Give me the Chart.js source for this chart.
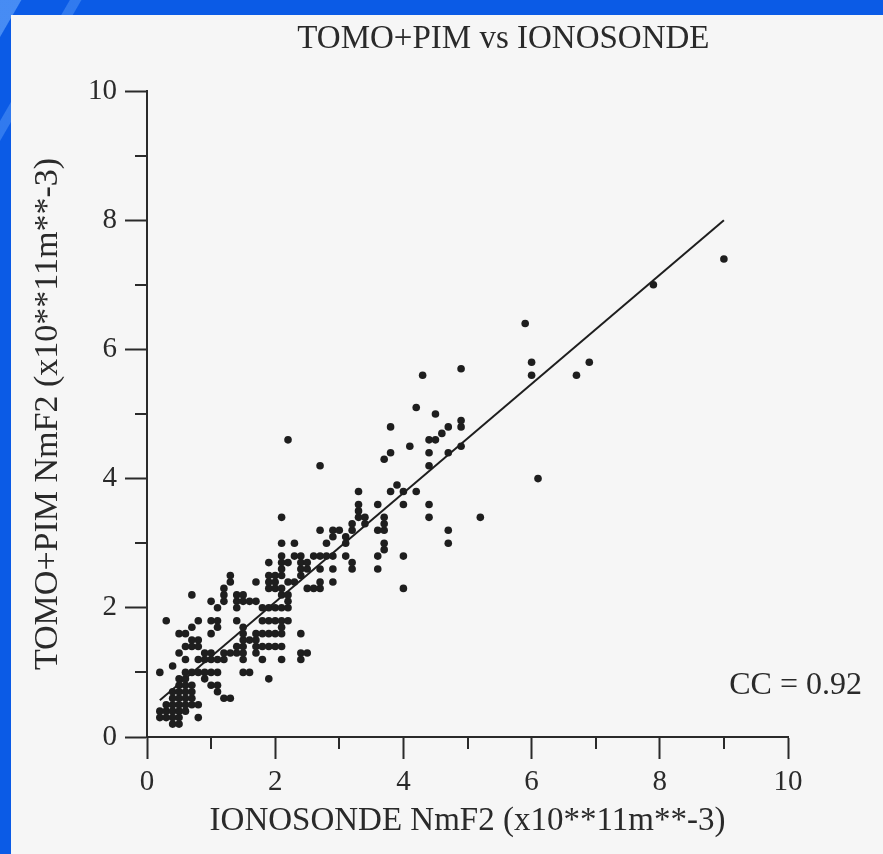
<!DOCTYPE html>
<html>
<head>
<meta charset="utf-8">
<script src="https://cdn.jsdelivr.net/npm/chart.js@4.4.1/dist/chart.umd.min.js"></script>
<style>
  html, body { margin: 0; padding: 0; }
  body {
    width: 883px; height: 854px; position: relative; overflow: hidden;
    background:
      linear-gradient(120deg, rgba(120,180,255,0.55) 0px, rgba(120,180,255,0.55) 18px, rgba(0,0,0,0) 19px, rgba(0,0,0,0) 60px, rgba(120,180,255,0.35) 61px, rgba(120,180,255,0.35) 70px, rgba(0,0,0,0) 71px),
      #0b5be6;
  }
  #paper { position: absolute; left: 11px; top: 15px; width: 872px; height: 839px; background: #f6f6f6; }
  #wrap { position: absolute; left: 0; top: 0; width: 883px; height: 854px; }
</style>
</head>
<body>
<div id="paper"></div>
<div id="wrap"><canvas id="c" width="883" height="854"></canvas></div>
<script>
// ---- data ----
const chartTitle = "TOMO+PIM vs IONOSONDE";
const xAxisTitle = "IONOSONDE NmF2 (x10**11m**-3)";
const yAxisTitle = "TOMO+PIM NmF2 (x10**11m**-3)";
const ccLabel = "CC = 0.92";
const tickValues = [0, 2, 4, 6, 8, 10];
const minorTickValues = [1, 3, 5, 7, 9];

// IONOSONDE NmF2 values (one per column of points)
const ionosondeX = [0.2, 0.3, 0.4, 0.5, 0.6, 0.7, 0.8, 0.9, 1.0, 1.1, 1.2, 1.3, 1.4, 1.5, 1.6, 1.7, 1.8, 1.9,
  2.0, 2.1, 2.2, 2.3, 2.4, 2.5, 2.6, 2.7, 2.8, 2.9, 3.0, 3.1, 3.2, 3.3, 3.4, 3.6, 3.7, 3.8, 3.9,
  4.0, 4.1, 4.2, 4.3, 4.4, 4.5, 4.6, 4.7, 4.9, 5.2, 5.9, 6.0, 6.1, 6.7, 6.9, 7.9, 9.0];
// TOMO+PIM NmF2 values for each IONOSONDE value above
const tomoPimY = [
  [0.3, 0.4, 1.0],
  [0.3, 0.4, 0.5, 1.8],
  [0.2, 0.3, 0.4, 0.5, 0.6, 0.7, 1.1],
  [0.2, 0.3, 0.4, 0.5, 0.6, 0.7, 0.8, 0.9, 1.3, 1.6],
  [0.4, 0.5, 0.6, 0.7, 0.8, 0.9, 1.0, 1.2, 1.4, 1.6],
  [0.5, 0.6, 0.7, 0.8, 1.0, 1.4, 1.5, 1.7, 2.2],
  [0.3, 0.5, 1.0, 1.2, 1.4, 1.5, 1.8],
  [0.9, 1.0, 1.2, 1.3],
  [0.8, 1.0, 1.2, 1.3, 1.6, 1.8, 2.1],
  [0.7, 0.8, 1.0, 1.2, 1.7, 1.8, 2.0],
  [0.6, 1.2, 1.3, 2.1, 2.2, 2.3],
  [0.6, 1.3, 2.4, 2.5],
  [1.3, 1.4, 1.8, 2.0, 2.1, 2.2],
  [1.0, 1.2, 1.3, 1.4, 1.5, 1.6, 1.7, 2.1, 2.2],
  [1.0, 1.5, 2.1],
  [1.3, 1.4, 1.5, 1.6, 2.1, 2.4],
  [1.2, 1.4, 1.6, 1.8, 2.0],
  [0.9, 1.4, 1.6, 1.8, 2.0, 2.3, 2.4, 2.5, 2.7],
  [1.4, 1.6, 1.8, 2.0, 2.3, 2.4, 2.5],
  [1.2, 1.4, 1.6, 1.7, 1.8, 2.0, 2.2, 2.3, 2.5, 2.6, 2.7, 2.8, 3.0, 3.4],
  [1.8, 2.0, 2.1, 2.2, 2.4, 2.7, 4.6],
  [2.4, 2.8, 3.0],
  [1.2, 1.3, 1.6, 2.5, 2.6, 2.7, 2.8],
  [1.3, 2.3, 2.6, 2.7],
  [2.3, 2.8],
  [2.3, 2.4, 2.6, 2.8, 3.2, 4.2],
  [2.8, 3.0],
  [2.4, 2.6, 2.8, 3.1, 3.2],
  [3.2],
  [2.8, 3.0, 3.1],
  [2.6, 2.7, 3.2, 3.3],
  [3.4, 3.5, 3.6, 3.8],
  [3.3, 3.4],
  [2.6, 2.8, 3.2, 3.6],
  [2.9, 3.0, 3.2, 3.3, 3.4, 4.3],
  [3.8, 4.4, 4.8],
  [3.9],
  [2.3, 2.8, 3.6, 3.8],
  [4.5],
  [3.8, 5.1],
  [5.6],
  [3.4, 3.6, 4.2, 4.4, 4.6],
  [4.6, 5.0],
  [4.7],
  [3.0, 3.2, 4.4, 4.8],
  [4.5, 4.8, 4.9, 5.7],
  [3.4],
  [6.4],
  [5.6, 5.8],
  [4.0],
  [5.6],
  [5.8],
  [7.0],
  [7.4]
];
// regression line end points
const fitX = [0.2, 9.0];
const fitY = [0.57, 8.0];

// ---- build datasets ----
const scatterPoints = [];
ionosondeX.forEach((x, i) => tomoPimY[i].forEach(y => scatterPoints.push({ x: x, y: y })));
const fitPoints = fitX.map((x, i) => ({ x: x, y: fitY[i] }));

const serif = "'Liberation Serif', 'Times New Roman', serif";
const ink = '#2a2a2a';

const extras = {
  id: 'extras',
  afterDraw(chart) {
    const ctx = chart.ctx;
    const xs = chart.scales.x, ys = chart.scales.y;
    const area = chart.chartArea;
    ctx.save();
    ctx.strokeStyle = ink;
    ctx.lineWidth = 2;
    ctx.beginPath();
    minorTickValues.forEach(v => {
      const px = Math.round(xs.getPixelForValue(v));
      ctx.moveTo(px, area.bottom);
      ctx.lineTo(px, area.bottom + 12);
      const py = Math.round(ys.getPixelForValue(v));
      ctx.moveTo(area.left - 12, py);
      ctx.lineTo(area.left, py);
    });
    ctx.stroke();
    ctx.fillStyle = ink;
    ctx.textBaseline = 'middle';
    // chart title
    ctx.font = "33px " + serif;
    ctx.textAlign = 'center';
    ctx.fillText(chartTitle, area.left + (area.right - area.left) * 0.556, area.top - 52);
    // correlation label
    ctx.font = "32px " + serif;
    ctx.textAlign = 'right';
    ctx.fillText(ccLabel, area.right + 74, ys.getPixelForValue(0.8));
    ctx.restore();
  }
};

new Chart(document.getElementById('c'), {
  type: 'scatter',
  data: {
    datasets: [
      {
        label: 'TOMO+PIM vs IONOSONDE',
        data: scatterPoints,
        pointRadius: 3.8,
        pointBackgroundColor: '#1e1e1e',
        pointBorderWidth: 0,
        order: 2
      },
      {
        type: 'line',
        label: 'fit',
        data: fitPoints,
        borderColor: '#1e1e1e',
        borderWidth: 2,
        pointRadius: 0,
        fill: false,
        order: 1
      }
    ]
  },
  plugins: [extras],
  options: {
    responsive: false,
    animation: false,
    devicePixelRatio: 1,
    layout: { padding: { left: 0, right: 95, top: 91, bottom: 0 } },
    plugins: {
      legend: { display: false },
      tooltip: { enabled: false },
      title: { display: false }
    },
    scales: {
      x: {
        type: 'linear',
        min: 0, max: 10,
        afterFit(scale) { scale.height = 117; },
        afterBuildTicks(scale) { scale.ticks = tickValues.map(v => ({ value: v })); },
        ticks: { color: ink, font: { family: serif, size: 29 }, padding: 6, maxRotation: 0 },
        grid: { drawOnChartArea: false, tickLength: 22, tickWidth: 2, tickColor: ink },
        border: { display: true, color: ink, width: 2 },
        title: {
          display: true, text: xAxisTitle, color: ink,
          font: { family: serif, size: 33 },
          padding: { top: 0, bottom: 13 }
        }
      },
      y: {
        type: 'linear',
        min: 0, max: 10,
        afterFit(scale) { scale.width = 147; },
        afterBuildTicks(scale) { scale.ticks = tickValues.map(v => ({ value: v })); },
        ticks: { color: ink, font: { family: serif, size: 29 }, padding: 8 },
        grid: { drawOnChartArea: false, tickLength: 22, tickWidth: 2, tickColor: ink },
        border: { display: true, color: ink, width: 2 },
        title: {
          display: true, text: yAxisTitle, color: ink,
          font: { family: serif, size: 34 },
          padding: { top: 28, bottom: 0 }
        }
      }
    }
  }
});
</script>
</body>
</html>
